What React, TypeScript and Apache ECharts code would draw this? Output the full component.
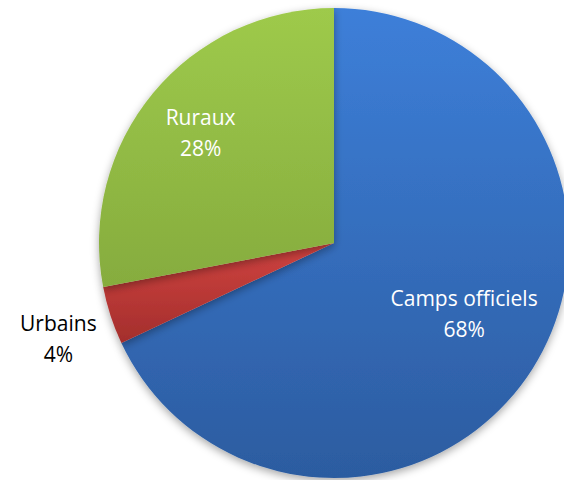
import React, { useEffect, useRef } from "react";
import * as echarts from "echarts";

const categories = ["Camps officiels", "Urbains", "Ruraux"];
const values = [68, 4, 28];
const topColors = ["#3D7FD9", "#D04340", "#9ECA4B"];
const bottomColors = ["#2C5CA0", "#A32E2C", "#86AC3E"];

export default function App() {
  const ref = useRef<HTMLDivElement>(null);
  useEffect(() => {
    if (!ref.current) return;
    const chart = echarts.init(ref.current, undefined, { renderer: "svg" });
    const font = "Open Sans";
    const baseData = categories.map((name, i) => ({
      name,
      value: values[i],
    }));
    const fmt = (p: any) => `${p.name}\n${p.value}%`;
    const textStyle = { fontFamily: font, fontSize: 21, lineHeight: 31, overflow: "none" };
    chart.setOption({
      animation: false,
      series: [
        {
          type: "pie",
          center: [334, 243],
          radius: 235,
          startAngle: 90,
          clockwise: true,
          silent: true,
          label: { show: false },
          labelLine: { show: false },
          itemStyle: {
            shadowBlur: 8,
            shadowColor: "rgba(0,0,0,0.35)",
            shadowOffsetY: 3,
          },
          data: baseData.map((d, i) => ({
            ...d,
            itemStyle: {
              color: new echarts.graphic.LinearGradient(0, 0, 0, 1, [
                { offset: 0, color: topColors[i] },
                { offset: 1, color: bottomColors[i] },
              ]),
            },
          })),
        },
        {
          type: "pie",
          center: [334, 243],
          radius: [60, 235],
          startAngle: 90,
          silent: true,
          itemStyle: { color: "transparent" },
          labelLine: { show: false, length: 58, length2: 0 },
          labelLayout: (p: any) =>
            p.dataIndex === 0 ? { dy: -10, dx: 3 } : { align: "center", dx: 8, dy: 5 },
          data: baseData.map((d, i) => ({
            ...d,
            label:
              i === 0
                ? { show: true, position: "inside", formatter: fmt, color: "#fff", ...textStyle }
                : i === 1
                ? { show: true, position: "outside", formatter: fmt, color: "#000", ...textStyle }
                : { show: false },
          })),
        },
        {
          type: "pie",
          center: [334, 243],
          radius: [113, 235],
          startAngle: 90,
          silent: true,
          itemStyle: { color: "transparent" },
          labelLine: { show: false },
          labelLayout: () => ({ dx: 3, dy: 2 }),
          data: baseData.map((d, i) => ({
            ...d,
            label:
              i === 2
                ? { show: true, position: "inside", formatter: fmt, color: "#fff", ...textStyle }
                : { show: false },
          })),
        },
      ],
    });
    return () => chart.dispose();
  }, []);
  return (
    <div
      ref={ref}
      style={{ position: "absolute", left: 0, top: 0, width: 564, height: 480, background: "#fff" }}
    />
  );
}
